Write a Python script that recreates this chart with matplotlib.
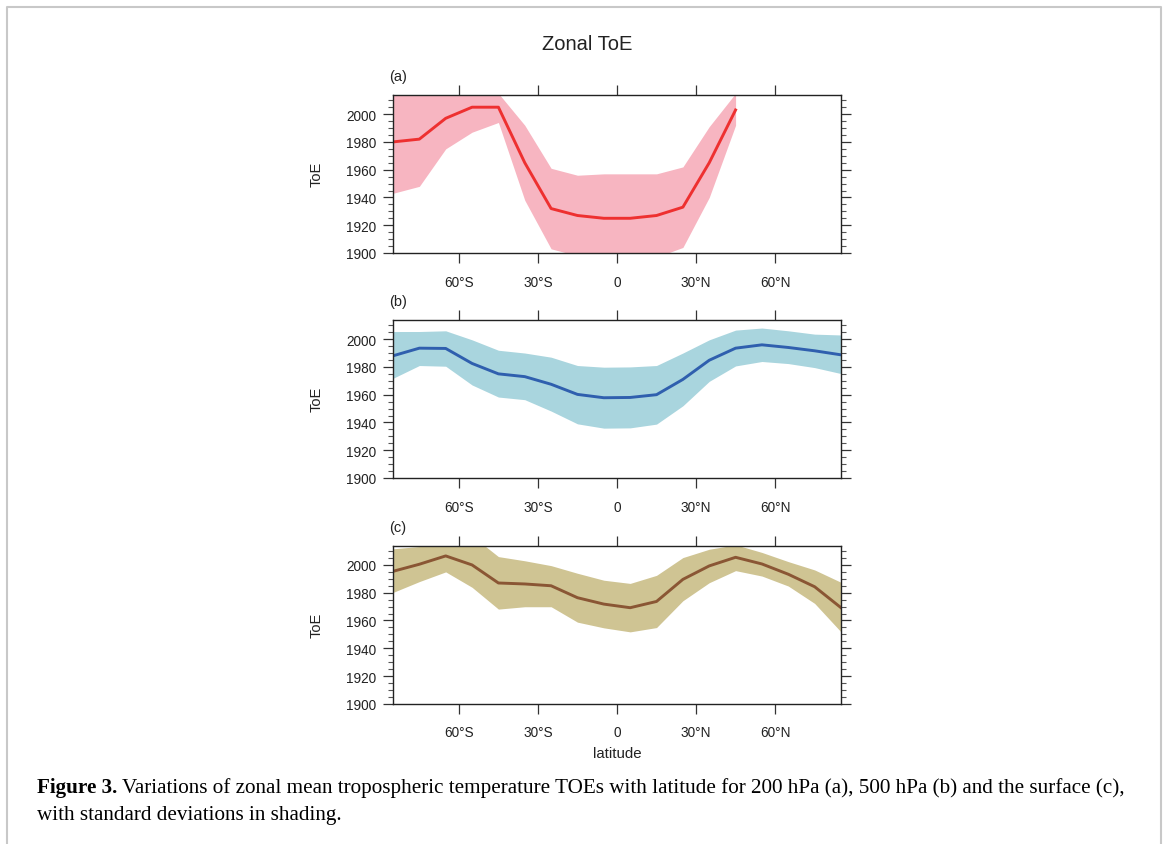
import numpy as np
import matplotlib
matplotlib.use('Agg')
import matplotlib.pyplot as plt
from matplotlib.ticker import MultipleLocator
from matplotlib.lines import Line2D

# latitude of each zonal band (deg, negative = south)
lat = [-85, -75, -65, -55, -45, -35, -25, -15, -5, 5, 15, 25, 35, 45, 55, 65, 75, 85]

# (a) 200 hPa - only defined up to 45N
toe_a = [1980, 1982, 1997, 2005, 2005, 1965, 1932, 1927, 1925, 1925, 1927, 1933, 1965, 2003]
up_a = [2018, 2016, 2019, 2023, 2015, 1992, 1961, 1956, 1957, 1957, 1957, 1962, 1991, 2015]
lo_a = [1943, 1948, 1975, 1987, 1994, 1938, 1903, 1898, 1893, 1893, 1897, 1904, 1940, 1992]

# (b) 500 hPa
toe_b = [1988, 1993.5, 1993.3, 1982.5, 1975, 1973, 1967.5, 1960.2, 1957.8, 1958, 1960, 1971,
         1984.8, 1993.5, 1995.9, 1994, 1991.6, 1988.7]
up_b = [2005.5, 2005.5, 2006, 1999.5, 1992, 1990, 1987, 1981, 1979.8, 1980, 1981, 1990,
        1999.5, 2006.5, 2008, 2006, 2003.6, 2003]
lo_b = [1971.8, 1981, 1980.5, 1967, 1958.3, 1956.4, 1948.2, 1939, 1935.9, 1936.1, 1938.8, 1952,
        1969.6, 1980.7, 1983.9, 1982.4, 1979.5, 1975.2]

# (c) surface
toe_c = [1995.4, 2000.5, 2006.5, 2000, 1987, 1986.3, 1985, 1976.4, 1971.8, 1969.2, 1973.7, 1989.6,
         1999.3, 2005.5, 2000.7, 1993.3, 1984.3, 1969.2]
up_c = [2011.6, 2013.3, 2018, 2021, 2006, 2003, 1999.5, 1994, 1989, 1986.7, 1992.5, 2005.3,
        2011.3, 2014.5, 2009, 2002.4, 1996.4, 1987.5]
lo_c = [1980.2, 1988, 1995, 1983.9, 1968.2, 1969.9, 1969.9, 1958.8, 1954.7, 1951.8, 1954.9, 1974.2,
        1987.2, 1995.9, 1992, 1984.8, 1972.3, 1951.8]

xticks = [-60, -30, 0, 30, 60]
xticklabels = ['60°S', '30°S', '0', '30°N', '60°N']

plt.rcParams['font.family'] = ['Liberation Sans', 'DejaVu Sans']

W, H = 1168, 845
fig = plt.figure(figsize=(W / 100, H / 100), dpi=100)

# grey frame around the figure (open at the bottom)
fig.add_artist(Line2D([7 / W, 7 / W, 1161 / W, 1161 / W], [0, 1 - 8 / H, 1 - 8 / H, 0],
                      transform=fig.transFigure, color='#c8c8c8', lw=1.5))

fig.text(587 / W, 1 - 44 / H, 'Zonal ToE', ha='center', va='center', fontsize=14.5, color='#222222')

panels = [
    ('(a)', lat[:len(toe_a)], toe_a, up_a, lo_a, '#f7b5c1', '#ee3030', 95.7),
    ('(b)', lat, toe_b, up_b, lo_b, '#a9d5de', '#2f5fae', 320.7),
    ('(c)', lat, toe_c, up_c, lo_c, '#cfc493', '#8a5634', 546.5),
]

left, width, height = 393 / W, 448 / W, 158.3 / H
for i, (tag, x, mean, up, lo, fc, lc, top_px) in enumerate(panels):
    ax = fig.add_axes([left, 1 - (top_px + 158.3) / H, width, height])
    ax.fill_between(x, lo, up, color=fc, lw=0)
    ax.plot(x, mean, color=lc, lw=2.1, solid_joinstyle='round')
    ax.set_xlim(-85, 85)
    ax.set_ylim(1900, 2014)
    ax.set_xticks(xticks)
    ax.set_xticklabels(xticklabels)
    ax.yaxis.set_major_locator(MultipleLocator(20))
    ax.yaxis.set_minor_locator(MultipleLocator(5))
    ax.tick_params(axis='both', which='major', direction='out', length=7, width=0.9,
                   color='#333333', labelsize=9.8, labelcolor='#222222',
                   top=True, right=True)
    ax.tick_params(axis='x', pad=8.5)
    ax.tick_params(axis='y', pad=5)
    ax.tick_params(axis='y', which='minor', direction='out', length=3.6, width=0.8,
                   color='#555555', right=True)
    for s in ax.spines.values():
        s.set_linewidth(1.0)
        s.set_color('#222222')
    ax.set_ylabel('ToE', fontsize=10.5, color='#222222')
    ax.yaxis.set_label_coords(-0.155, 0.5)
    ax.text(-0.008, 1.12, tag, transform=ax.transAxes, ha='left', va='center',
            fontsize=10.5, color='#222222')
    if i == 2:
        ax.set_xlabel('latitude', fontsize=10.8, color='#222222')
        ax.xaxis.set_label_coords(0.5, -0.268)

# caption: bold lead-in followed by regular text
cap_fs = 15.2
y1 = 1 - 788 / H
y2 = 1 - 816 / H
t = fig.text(37 / W, y1, 'Figure 3.', fontsize=cap_fs, fontweight='bold',
             family='Liberation Serif', va='center', ha='left')
r = fig.canvas.get_renderer()
bb = t.get_window_extent(renderer=r)
fig.text(bb.x1 / W + 5 / W, y1,
         'Variations of zonal mean tropospheric temperature TOEs with latitude for 200 hPa (a), '
         '500 hPa (b) and the surface (c),',
         fontsize=cap_fs, family='Liberation Serif', va='center', ha='left')
fig.text(37 / W, y2, 'with standard deviations in shading.', fontsize=cap_fs,
         family='Liberation Serif', va='center', ha='left')

fig.savefig('out.png', dpi=100)
